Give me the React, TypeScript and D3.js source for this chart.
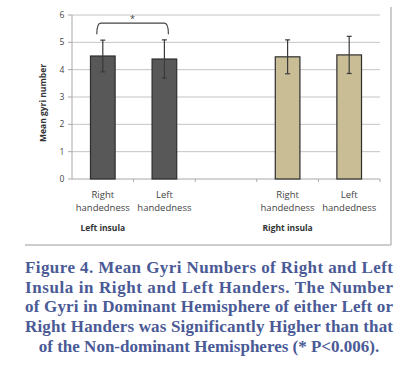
import React from "react";
import * as d3 from "d3";

// chart values
const categories = ["lh-right", "lh-left", "gap", "rh-right", "rh-left"];
const categoryLines = [["Right", "handedness"], ["Left", "handedness"], [], ["Right", "handedness"], ["Left", "handedness"]];
const means = [4.5, 4.39, null, 4.47, 4.54];
const errors = [0.58, 0.7, null, 0.62, 0.68];
const groups = ["Left insula", "Right insula"];
const groupAt = [0, 3];
const yTicks = [0, 1, 2, 3, 4, 5, 6];
const captionLines = [
  "Figure 4. Mean Gyri Numbers of Right and Left",
  "Insula in Right and Left Handers. The Number",
  "of Gyri in Dominant Hemisphere of either Left or",
  "Right Handers was Significantly Higher than that",
  "of the Non-dominant Hemispheres (* P<0.006).",
];

const barFill = ["#585858", "#585858", "none", "#c9bd96", "#c9bd96"];

export default function App() {
  const width = 420;
  const height = 368;
  const plot = { left: 72, right: 380, top: 15, bottom: 179 };

  const x = d3.scaleBand().domain(categories).range([plot.left, plot.right]).paddingInner(0.6).paddingOuter(0.3);
  const band = d3.scaleBand().domain(categories).range([plot.left, plot.right]);
  const y = d3.scaleLinear().domain([0, 6]).range([plot.bottom, plot.top]);

  const bw = x.bandwidth();
  const cx = (i: number) => (x(categories[i]) as number) + bw / 2;

  // significance bracket between first two bars
  const bx1 = cx(0) - 6;
  const bx2 = cx(1) + 4;
  const by = y(5.7);
  const bracket = d3.path();
  bracket.moveTo(bx1, by + 11);
  bracket.quadraticCurveTo(bx1, by, bx1 + 4, by);
  bracket.lineTo(bx2 - 4, by);
  bracket.quadraticCurveTo(bx2, by, bx2, by + 11);

  const font = "'Open Sans', Arial, sans-serif";

  return (
    <div style={{ position: "absolute", left: 0, top: 0 }}>
      <svg width={width} height={height} style={{ display: "block", background: "#fff" }}>
        {/* frame */}
        <line x1={391} x2={391} y1={7} y2={245} stroke="#bdbdbd" strokeWidth={1.5} />
        <line x1={25} x2={391} y1={245} y2={245} stroke="#bdbdbd" strokeWidth={1.5} />

        {/* gridlines */}
        {yTicks.map((t) => (
          <g key={t}>
            <line x1={plot.left} x2={plot.right} y1={y(t)} y2={y(t)} stroke={t === 0 ? "#a8a8a8" : "#c4c4c4"} strokeWidth={1} />
            <line x1={plot.left - 4} x2={plot.left} y1={y(t)} y2={y(t)} stroke="#a8a8a8" />
            <text x={62} y={y(t)} dy="0.35em" textAnchor="middle" fontSize={8.5} fontFamily={font} fill="#444">
              {t}
            </text>
          </g>
        ))}
        <line x1={plot.left} x2={plot.left} y1={plot.top} y2={plot.bottom} stroke="#a8a8a8" />
        {categories.map((c) => (
          <line key={c} x1={(band(c) as number) + band.bandwidth()} x2={(band(c) as number) + band.bandwidth()} y1={plot.bottom} y2={plot.bottom + 3} stroke="#a8a8a8" />
        ))}

        {/* y axis title */}
        <text transform={`translate(46,${(plot.top + plot.bottom) / 2 + 6}) rotate(-90)`} textAnchor="middle" fontSize={8.5} fontWeight="bold" fontFamily={font} fill="#333">
          Mean gyri number
        </text>

        {/* bars */}
        {categories.map((c, i) => {
          const v = means[i];
          if (v == null) return null;
          return (
            <rect key={c} x={x(c)} y={y(v)} width={bw} height={y(0) - y(v)} fill={barFill[i]} stroke="#2e2e2e" strokeWidth={1.2} />
          );
        })}

        {/* error bars */}
        {categories.map((c, i) => {
          const v = means[i];
          const e = errors[i];
          if (v == null || e == null) return null;
          const m = cx(i);
          return (
            <g key={c} stroke="#3a3a3a" strokeWidth={1.2}>
              <line x1={m} x2={m} y1={y(v + e)} y2={y(v - e)} />
              <line x1={m - 2.5} x2={m + 2.5} y1={y(v + e)} y2={y(v + e)} />
              <line x1={m - 2.5} x2={m + 2.5} y1={y(v - e)} y2={y(v - e)} />
            </g>
          );
        })}

        {/* significance */}
        <path d={bracket.toString()} fill="none" stroke="#444" strokeWidth={1.2} />
        <text x={(bx1 + bx2) / 2} y={by - 1} textAnchor="middle" fontSize={9} fontFamily={font} fill="#444">
          *
        </text>

        {/* category labels */}
        {categories.map((c, i) => (
          <text key={c} textAnchor="middle" fontSize={9.5} fontFamily={font} fill="#444">
            {categoryLines[i].map((s, k) => (
              <tspan key={k} x={cx(i)} y={198 + k * 12.5}>
                {s}
              </tspan>
            ))}
          </text>
        ))}

        {/* group labels */}
        {groups.map((g, k) => (
          <text key={g} x={cx(groupAt[k])} y={231} textAnchor="middle" fontSize={8.5} fontWeight="bold" fontFamily={font} fill="#333">
            {g}
          </text>
        ))}

        {/* caption */}
        {captionLines.map((s, k) =>
          k < captionLines.length - 1 ? (
            <text key={k} x={25} y={273 + k * 19.7} textLength={368} lengthAdjust="spacing" fontSize={17} fontWeight="bold" fontFamily="'Liberation Serif', 'Times New Roman', serif" fill="#4a5a96">
              {s}
            </text>
          ) : (
            <text key={k} x={209} y={273 + k * 19.7} textAnchor="middle" fontSize={17} fontWeight="bold" fontFamily="'Liberation Serif', 'Times New Roman', serif" fill="#4a5a96">
              {s}
            </text>
          )
        )}
      </svg>
    </div>
  );
}
